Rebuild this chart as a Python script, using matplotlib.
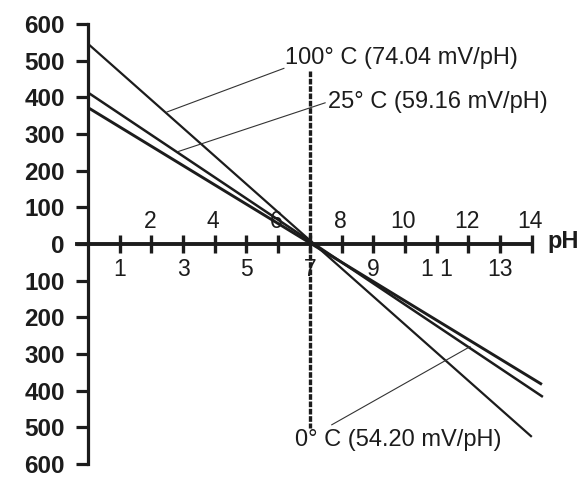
import matplotlib
matplotlib.use("Agg")
import matplotlib.pyplot as plt
from matplotlib.ticker import FuncFormatter

plt.rcParams['font.family'] = ['Liberation Sans', 'DejaVu Sans']

# ---- data ----
series_labels = ["100° C (74.04 mV/pH)", "25° C (59.16 mV/pH)", "0° C (54.20 mV/pH)"]
ph_start = [0.0, 0.0, 0.0]
mv_start = [546, 413, 372]
ph_end = [14.0, 14.35, 14.32]
mv_end = [-526, -417, -383]

# label anchor (text) and leader line from a point on the line
text_x = [6.21, 7.57, 6.53]
text_y = [508, 387, -535]
leader_from_x = [2.49, 2.84, 12.05]
leader_from_y = [360, 252, -280]
leader_to_x = [6.18, 7.48, 7.69]
leader_to_y = [479, 385, -493]

y_ticks = list(range(-600, 601, 100))
x_ticks = list(range(1, 15))
x_labels_top = {2: "2", 4: "4", 6: "6", 8: "8", 10: "10", 12: "12", 14: "14"}
x_labels_bottom = {1: "1", 3: "3", 5: "5", 7: "7", 9: "9", 11: "1 1", 13: "13"}

neutral_ph = 7.0
dash_top, dash_bottom = 473, -503

# ---- figure ----
fig = plt.figure(figsize=(5.79, 4.8), dpi=100)
ax = fig.add_axes([0, 0, 1, 1])
ax.set_xlim(-2.776, 15.489)
ax.set_ylim(-643.6, 665.4)

ink = "#1c1c1c"

for s in ("top", "right"):
    ax.spines[s].set_visible(False)
ax.spines["left"].set_position(("data", 0))
ax.spines["left"].set_bounds(-600, 600)
ax.spines["left"].set_linewidth(2.3)
ax.spines["left"].set_color(ink)
ax.spines["bottom"].set_position(("data", 0))
ax.spines["bottom"].set_bounds(-0.35, 14)
ax.spines["bottom"].set_linewidth(2.8)
ax.spines["bottom"].set_color(ink)

ax.set_yticks(y_ticks)
ax.yaxis.set_major_formatter(FuncFormatter(lambda v, p: f"{abs(int(v))}"))
ax.tick_params(axis="y", direction="out", length=8.6, width=2.3, color=ink,
               labelsize=17.5, pad=8)
for lab in ax.get_yticklabels():
    lab.set_fontweight("bold")
    lab.set_color(ink)

ax.set_xticks(x_ticks)
ax.tick_params(axis="x", direction="inout", length=13, width=2.4, color=ink,
               labelbottom=False)

for xv, t in x_labels_top.items():
    ax.text(xv - 0.05, 62, t, ha="center", va="center", fontsize=16.5, color=ink)
for xv, t in x_labels_bottom.items():
    ax.text(xv, -70, t, ha="center", va="center", fontsize=16.5, color=ink)

ax.text(14.5, 8, "pH", ha="left", va="center", fontsize=17, fontweight="bold", color=ink)

# dashed neutral line
ax.plot([neutral_ph, neutral_ph], [dash_top, dash_bottom], color=ink, lw=2.4,
        dashes=(1.7, 0.5), solid_capstyle="butt")

# response lines
lws = [1.6, 1.8, 2.1]
for i in range(3):
    ax.plot([ph_start[i], ph_end[i]], [mv_start[i], mv_end[i]], color=ink,
            lw=lws[i], solid_capstyle="butt")
    ax.plot([leader_from_x[i], leader_to_x[i]], [leader_from_y[i], leader_to_y[i]],
            color="#333333", lw=0.8)
    ax.text(text_x[i], text_y[i], series_labels[i], ha="left", va="center",
            fontsize=17, color=ink)

fig.savefig("out.png", dpi=100)
